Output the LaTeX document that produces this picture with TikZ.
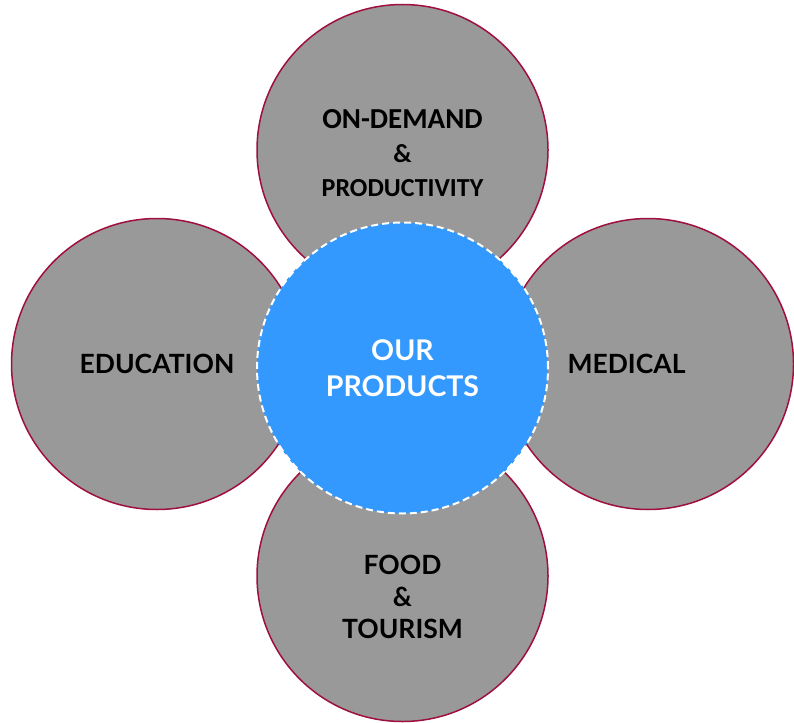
\documentclass[tikz,border=0pt]{standalone}
\usepackage{fontspec}
\setmainfont{Lato}
\newfontfamily\carl{Carlito}
\definecolor{petal}{HTML}{999999}
\definecolor{rim}{HTML}{A0103C}
\definecolor{core}{HTML}{3399FF}
\tikzset{
  petalc/.style={circle, fill=petal, draw=rim, line width=1.5pt, minimum size=291pt, inner sep=0pt},
  corec/.style={circle, fill=core, draw=white, line width=2pt, dash pattern=on 7pt off 4pt, minimum size=291pt, inner sep=0pt},
  lbl/.style={align=center, text=black, font=\bfseries\fontsize{26.5}{32}\selectfont, inner sep=0pt},
}
\begin{document}
\begin{tikzpicture}[x=1pt,y=-1pt]
\useasboundingbox (0,0) rectangle (794,722);
\node[petalc] (top) at (402.5,150) {};
\node[petalc] (left) at (157,364) {};
\node[petalc] (right) at (648,364) {};
\node[petalc] (bottom) at (402.5,576) {};
\node[corec] (center) at (402.5,368) {};
\node[lbl, font=\carl\bfseries\fontsize{26}{34}\selectfont] (ttop) at (402.5,153) {{\fontsize{29}{34}\selectfont ON-DEMAND}\\\&\\PRODUCTIVITY};
\node[lbl] (tleft) at (157,364) {EDUCATION};
\node[lbl] (tright) at (626.5,364) {MEDICAL};
\node[lbl] (tbottom) at (402.5,597) {FOOD\\\&\\TOURISM};
\node[lbl, text=white, font=\bfseries\fontsize{28.5}{36}\selectfont] (tcenter) at (402.5,368) {OUR\\PRODUCTS};
\end{tikzpicture}
\end{document}
